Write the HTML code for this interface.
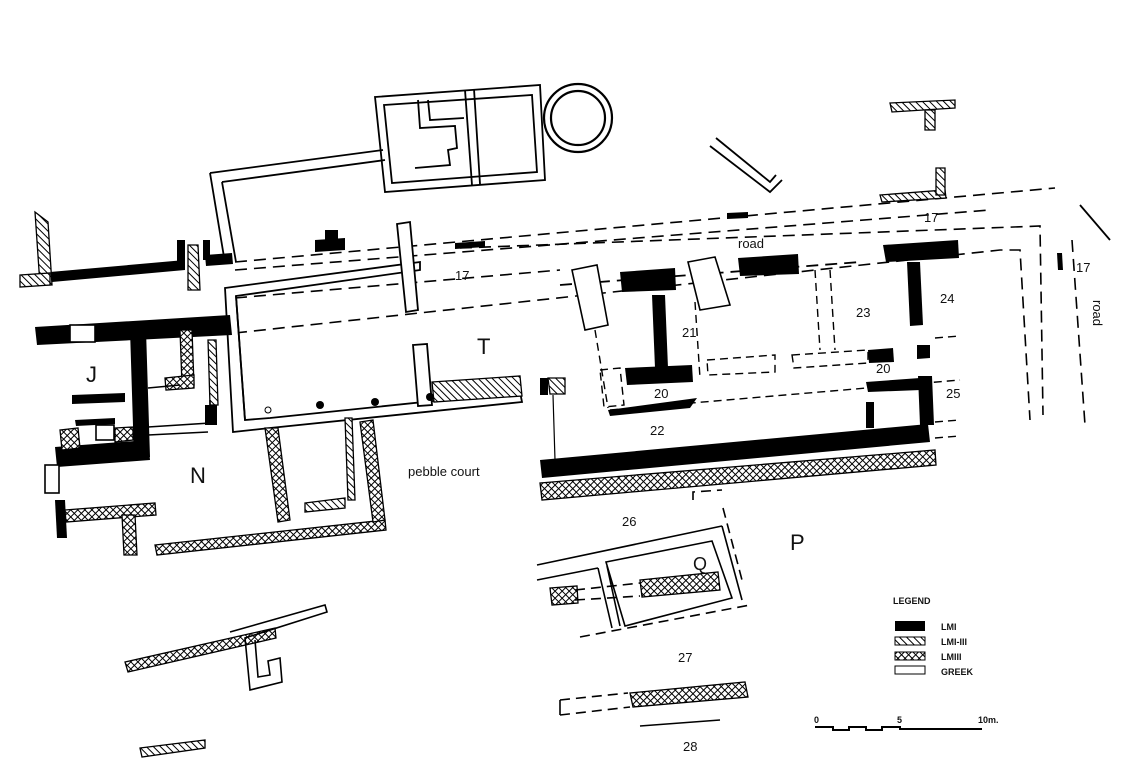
<!DOCTYPE html>
<html><head><meta charset="utf-8"><style>
html,body{margin:0;padding:0;background:#fff;}
svg{display:block}
text{font-family:"Liberation Sans",sans-serif;fill:#111}
</style></head><body>
<svg width="1136" height="774" viewBox="0 0 1136 774" xmlns="http://www.w3.org/2000/svg">
<defs>
<pattern id="h" width="5" height="5" patternUnits="userSpaceOnUse" patternTransform="rotate(-45)">
<rect width="5" height="5" fill="#fff"/><line x1="0" y1="0" x2="0" y2="5" stroke="#000" stroke-width="2"/></pattern>
<pattern id="x" width="5" height="5" patternUnits="userSpaceOnUse" patternTransform="rotate(45)">
<rect width="5" height="5" fill="#fff"/><line x1="0" y1="0" x2="0" y2="5" stroke="#000" stroke-width="2"/><line x1="0" y1="0" x2="5" y2="0" stroke="#000" stroke-width="2"/></pattern>
</defs>
<g stroke="#000" stroke-width="1.8" fill="none">
<polygon points="375,97 540,85 545,180 385,192" fill="#fff"/>
<polygon points="384,105 532,95 537,172 392,183"/>
<line x1="465" y1="90" x2="472" y2="185"/>
<line x1="474" y1="89" x2="480" y2="184"/>
<polyline points="418,100 420,128 455,126 457,148 448,150 450,165 415,168"/>
<polyline points="428,100 430,120 464,118"/>
<polyline points="210,173 383,150"/>
<polyline points="222,182 385,160"/>
<polyline points="210,173 225,263"/>
<polyline points="222,182 236,262"/>
<circle cx="578" cy="118" r="34" stroke-width="2.2"/>
<circle cx="578" cy="118" r="27" stroke-width="2.2"/>
<polyline points="710,146 770,192 782,180"/>
<polyline points="716,138 770,182 776,175"/>
<g stroke-dasharray="12,7" stroke-width="1.6">
<line x1="235" y1="262" x2="1055" y2="188"/>
<line x1="235" y1="270" x2="990" y2="210"/>
<polyline points="460,248 1040,226 1043,415"/>
<polyline points="235,333 1000,250 1020,250 1030,420"/>
<line x1="235" y1="298" x2="560" y2="270"/>
<line x1="1072" y1="240" x2="1085" y2="425"/>
</g>
<line x1="1080" y1="205" x2="1110" y2="240"/>
<line x1="560" y1="285" x2="860" y2="262" stroke-dasharray="12,7"/>
<polygon points="225,288 420,262 420,270 236,296 245,420 270,418 520,392 522,402 270,428 233,432" fill="#fff"/>
<line x1="236" y1="296" x2="245" y2="420"/>
<polygon points="397,224 410,222 418,310 406,312" fill="#fff"/>
<polygon points="413,345 427,344 432,405 418,406" fill="#fff"/>
</g>
<g fill="#000">
<polygon points="50,272 185,260 185,270 52,282"/>
<polygon points="177,240 185,240 185,265 177,265"/>
<polygon points="203,240 210,240 210,260 203,260"/>
<polygon points="205,255 232,253 233,264 206,266"/>
<polygon points="315,240 345,238 345,250 315,252"/>
<polygon points="325,230 338,230 338,240 325,240"/>
<polygon points="455,243 485,241 485,247 455,249"/>
<polygon points="727,213 748,212 748,218 727,219"/>
<polygon points="35,327 230,315 232,335 37,345"/>
<polygon points="130,330 146,330 150,457 134,458"/>
<polygon points="55,447 148,440 150,460 57,467"/>
<polygon points="72,395 125,393 125,402 72,404"/>
<polygon points="75,420 115,418 115,424 76,426"/>
<polygon points="205,405 217,405 217,425 205,425"/>
<polygon points="55,500 65,500 67,538 57,538"/>
<polygon points="540,460 928,424 930,442 542,478"/>
<polygon points="620,272 675,268 676,290 622,292"/>
<polygon points="652,295 665,295 668,368 655,368"/>
<polygon points="625,368 692,365 693,382 627,385"/>
<polygon points="608,410 697,398 690,408 610,416"/>
<polygon points="738,258 798,254 799,274 740,276"/>
<polygon points="883,245 958,240 959,258 886,262"/>
<polygon points="907,262 920,262 923,325 910,326"/>
<polygon points="868,350 893,348 894,362 869,363"/>
<polygon points="917,345 930,345 930,358 917,359"/>
<polygon points="866,382 920,378 921,390 868,392"/>
<polygon points="918,376 932,376 934,425 920,425"/>
<polygon points="866,402 874,402 874,428 866,428"/>
<polygon points="540,378 548,378 548,395 540,395"/>
<polygon points="1057,253 1062,253 1063,270 1058,270"/>
<circle cx="320" cy="405" r="4"/><circle cx="375" cy="402" r="4"/><circle cx="430" cy="397" r="4"/><circle cx="486" cy="391" r="4"/>
</g>
<circle cx="268" cy="410" r="3" fill="#fff" stroke="#000"/>
<g fill="url(#h)" stroke="#000" stroke-width="1.3">
<polygon points="35,212 48,222 52,285 40,285"/>
<polygon points="20,275 50,273 50,285 20,287"/>
<polygon points="188,245 198,245 200,290 188,290"/>
<polygon points="208,340 216,340 218,405 210,405"/>
<polygon points="432,382 520,376 522,396 434,402"/>
<polygon points="548,378 565,378 565,394 550,394"/>
<polygon points="890,103 955,100 955,108 892,112"/>
<polygon points="925,110 935,110 935,130 925,130"/>
<polygon points="880,195 945,190 946,198 882,202"/>
<polygon points="936,168 945,168 945,195 936,195"/>
<polygon points="305,503 345,498 345,508 305,512"/>
<polygon points="345,418 352,418 355,500 348,500"/>
<polygon points="140,748 205,740 205,748 142,757"/>
</g>
<g fill="url(#x)" stroke="#000" stroke-width="1.3">
<polygon points="180,330 192,330 194,385 182,385"/>
<polygon points="165,378 194,375 194,388 166,390"/>
<polygon points="60,430 78,428 80,448 62,450"/>
<polygon points="115,428 133,427 133,440 115,442"/>
<polygon points="65,510 155,503 156,515 66,522"/>
<polygon points="122,515 135,515 137,555 124,555"/>
<polygon points="155,545 385,520 386,530 157,555"/>
<polygon points="265,428 278,428 290,520 278,522"/>
<polygon points="360,422 373,420 385,520 373,522"/>
<polygon points="540,483 935,450 936,465 542,500"/>
<polygon points="550,588 577,586 578,603 552,605"/>
<polygon points="640,580 718,572 720,590 642,597"/>
<polygon points="630,693 745,682 748,697 633,707"/>
<polygon points="125,662 275,628 276,638 128,672"/>
</g>
<g stroke="#000" stroke-width="1.6" fill="none">
<line x1="537" y1="565" x2="722" y2="526"/>
<line x1="537" y1="580" x2="598" y2="568"/>
<polyline points="598,568 612,628"/>
<polyline points="607,566 620,626"/>
<polygon points="606,562 712,541 732,598 625,626"/>
<line x1="722" y1="526" x2="742" y2="600"/>
<g stroke-dasharray="10,6">
<line x1="575" y1="590" x2="640" y2="583"/>
<line x1="575" y1="600" x2="640" y2="596"/>
<line x1="580" y1="637" x2="750" y2="605"/>
<line x1="723" y1="508" x2="742" y2="580"/>
<line x1="560" y1="700" x2="628" y2="693"/>
<line x1="560" y1="715" x2="630" y2="707"/>
<polyline points="693,500 693,492 722,490"/>
</g>
<line x1="560" y1="700" x2="560" y2="715"/>
<line x1="640" y1="726" x2="720" y2="720"/>
<line x1="553" y1="395" x2="555" y2="460" stroke-width="1.2"/>
<g stroke-dasharray="8,5" stroke-width="1.4">
<polygon points="600,370 620,368 624,405 604,407"/>
<polygon points="707,360 775,355 775,372 708,375"/>
<polygon points="792,355 868,350 868,363 794,368"/>
<line x1="815" y1="270" x2="820" y2="350"/>
<line x1="830" y1="270" x2="835" y2="350"/>
<line x1="595" y1="330" x2="608" y2="408"/>
<line x1="695" y1="302" x2="700" y2="378"/>
<line x1="610" y1="410" x2="960" y2="380"/>
<line x1="935" y1="338" x2="960" y2="336"/>
<line x1="935" y1="422" x2="960" y2="420"/>
<line x1="935" y1="438" x2="960" y2="436"/>
</g>
<polygon points="572,270 597,265 608,325 585,330" fill="#fff"/>
<polygon points="688,262 715,257 730,305 700,310" fill="#fff"/>
<polyline points="230,632 325,605 327,612 245,638 250,690 282,682 280,658 268,661 270,675 258,677 255,640"/>
<polyline points="148,388 180,385"/><polyline points="148,427 210,423 210,400"/>
<polyline points="148,435 208,432"/>
<rect x="45" y="465" width="14" height="28" fill="#fff"/>
<rect x="70" y="325" width="25" height="17" fill="#fff"/>
<rect x="96" y="425" width="18" height="15" fill="#fff"/>
</g>
<g font-size="13">
<text x="455" y="280">17</text>
<text x="924" y="222">17</text>
<text x="1076" y="272">17</text>
<text x="738" y="248">road</text>
<text x="1083" y="300" transform="rotate(90 1088 305)">road</text>
<text x="682" y="337">21</text>
<text x="856" y="317">23</text>
<text x="940" y="303">24</text>
<text x="654" y="398">20</text>
<text x="876" y="373">20</text>
<text x="946" y="398">25</text>
<text x="650" y="435">22</text>
<text x="408" y="476">pebble court</text>
<text x="622" y="526">26</text>
<text x="678" y="662">27</text>
<text x="683" y="751">28</text>
</g>
<g font-size="22">
<text x="86" y="382">J</text>
<text x="190" y="483">N</text>
<text x="477" y="354">T</text>
<text x="790" y="550">P</text>
<text x="693" y="570" font-size="18">Q</text>
</g>
<g font-size="9" font-weight="bold">
<text x="893" y="604">LEGEND</text>
<rect x="895" y="621" width="30" height="10" fill="#000"/>
<rect x="895" y="637" width="30" height="8" fill="url(#h)" stroke="#000"/>
<rect x="895" y="652" width="30" height="8" fill="url(#x)" stroke="#000"/>
<rect x="895" y="666" width="30" height="8" fill="#fff" stroke="#000"/>
<text x="941" y="630">LMI</text>
<text x="941" y="645">LMI-III</text>
<text x="941" y="660">LMIII</text>
<text x="941" y="675">GREEK</text>
<text x="814" y="723">0</text><text x="897" y="723">5</text><text x="978" y="723">10m.</text>
</g>
<polyline points="815,727 833,727 833,730 849,730 849,727 866,727 866,730 882,730 882,727 900,727 900,729 982,729" fill="none" stroke="#000" stroke-width="2"/>
</svg>
</body></html>
